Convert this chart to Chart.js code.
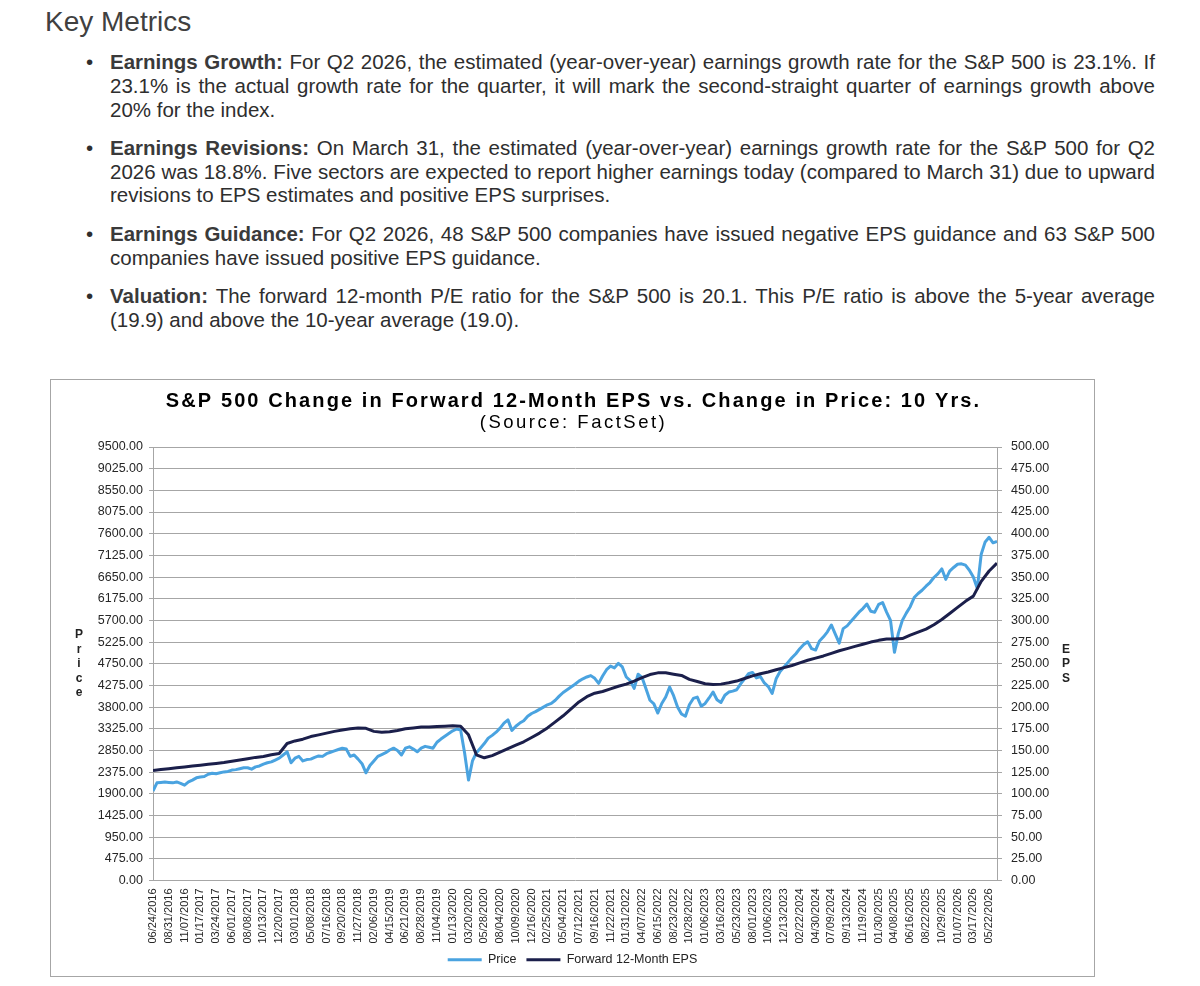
<!DOCTYPE html>
<html>
<head>
<meta charset="utf-8">
<title>Key Metrics</title>
<script src="https://cdn.jsdelivr.net/npm/chart.js@4.4.1/dist/chart.umd.min.js"></script>
<style>
  html, body { margin: 0; padding: 0; background: #fff; }
  body {
    width: 1200px; height: 986px; position: relative; overflow: hidden;
    font-family: "Liberation Sans", Arial, sans-serif; color: #2e2e2e;
  }
  h1 {
    position: absolute; left: 45px; top: 4px; margin: 0;
    font-size: 28px; line-height: 36px; font-weight: normal; color: #404040;
  }
  ul {
    position: absolute; left: 110px; top: 50px; width: 1045px;
    margin: 0; padding: 0; list-style: none;
  }
  li {
    position: relative; font-size: 20.5px; line-height: 23.8px;
    text-align: justify; margin-bottom: 14.5px;
  }
  li::before { content: "\2022"; position: absolute; left: -24px; top: 0; }
  li b { color: #3a3a3a; }
  .chart-box {
    position: absolute; left: 50px; top: 379px; width: 1043px; height: 596px;
    border: 1px solid #a6a6a6;
  }
</style>
</head>
<body>
<h1>Key Metrics</h1>
<ul>
  <li><b>Earnings Growth:</b> For Q2 2026, the estimated (year-over-year) earnings growth rate for the S&amp;P 500 is 23.1%. If 23.1% is the actual growth rate for the quarter, it will mark the second-straight quarter of earnings growth above 20% for the index.</li>
  <li><b>Earnings Revisions:</b> On March 31, the estimated (year-over-year) earnings growth rate for the S&amp;P 500 for Q2 2026 was 18.8%. Five sectors are expected to report higher earnings today (compared to March 31) due to upward revisions to EPS estimates and positive EPS surprises.</li>
  <li><b>Earnings Guidance:</b> For Q2 2026, 48 S&amp;P 500 companies have issued negative EPS guidance and 63 S&amp;P 500 companies have issued positive EPS guidance.</li>
  <li><b>Valuation:</b> The forward 12-month P/E ratio for the S&amp;P 500 is 20.1. This P/E ratio is above the 5-year average (19.9) and above the 10-year average (19.0).</li>
</ul>

<div class="chart-box"><canvas id="epsChart"></canvas></div>

<script>
// date labels on the x axis, one every ~10 weeks
const tickLabels = [
  '06/24/2016','08/31/2016','11/07/2016','01/17/2017','03/24/2017','06/01/2017',
  '08/08/2017','10/13/2017','12/20/2017','03/01/2018','05/08/2018','07/16/2018',
  '09/20/2018','11/27/2018','02/06/2019','04/15/2019','06/21/2019','08/28/2019',
  '11/04/2019','01/13/2020','03/20/2020','05/28/2020','08/04/2020','10/09/2020',
  '12/16/2020','02/25/2021','05/04/2021','07/12/2021','09/16/2021','11/22/2021',
  '01/31/2022','04/07/2022','06/15/2022','08/23/2022','10/28/2022','01/06/2023',
  '03/16/2023','05/23/2023','08/01/2023','10/06/2023','12/13/2023','02/22/2024',
  '04/30/2024','07/09/2024','09/13/2024','11/19/2024','01/30/2025','04/08/2025',
  '06/16/2025','08/22/2025','10/29/2025','01/07/2026','03/17/2026','05/22/2026'
];

// samples, per label interval
const PRICE_STEPS = 4;
const EPS_STEPS = 2;

// S&P 500 price (left axis)
const price = [
  1960, 2140, 2150, 2160, 2150, 2140, 2160, 2130, 2090, 2160, 2200, 2250, 2270, 2280, 2330, 2350, // 06/24/2016
  2340, 2360, 2380, 2390, 2420, 2430, 2450, 2470, 2470, 2440, 2490, 2510, 2550, 2580, 2600, 2640, // 03/24/2017
  2680, 2750, 2820, 2580, 2680, 2720, 2620, 2650, 2660, 2700, 2730, 2720, 2780, 2810, 2840, 2870, // 12/20/2017
  2900, 2880, 2720, 2750, 2660, 2560, 2360, 2520, 2620, 2720, 2760, 2800, 2860, 2900, 2850, 2750, // 09/20/2018
  2900, 2930, 2880, 2820, 2900, 2940, 2920, 2900, 3030, 3100, 3160, 3220, 3280, 3320, 3300, 2800, // 06/21/2019
  2200, 2620, 2800, 2900, 3000, 3120, 3180, 3250, 3340, 3450, 3520, 3290, 3380, 3450, 3500, 3600, // 03/20/2020
  3660, 3700, 3750, 3800, 3850, 3880, 3950, 4040, 4120, 4180, 4240, 4300, 4370, 4420, 4460, 4490, // 12/16/2020
  4430, 4320, 4480, 4620, 4700, 4660, 4760, 4680, 4460, 4380, 4210, 4520, 4450, 4200, 3950, 3870, // 09/16/2021
  3670, 3880, 4020, 4240, 4050, 3800, 3650, 3600, 3850, 3990, 4020, 3820, 3880, 4000, 4130, 3960, // 06/15/2022
  3900, 4060, 4130, 4150, 4180, 4310, 4420, 4530, 4560, 4440, 4470, 4330, 4250, 4100, 4420, 4580, // 03/16/2023
  4680, 4780, 4880, 4970, 5080, 5170, 5230, 5080, 5050, 5250, 5340, 5450, 5600, 5400, 5200, 5520, // 12/13/2023
  5580, 5680, 5780, 5880, 5960, 6060, 5900, 5880, 6050, 6090, 5880, 5700, 5000, 5420, 5700, 5860, // 09/13/2024
  6000, 6200, 6290, 6360, 6450, 6530, 6640, 6720, 6830, 6600, 6780, 6860, 6930, 6940, 6910, 6800, // 06/16/2025
  6650, 6400, 7150, 7420, 7520, 7400, 7430                                                        // 03/17/2026
];

// forward 12-month EPS (right axis)
const eps = [
  127, 128, 129, 130, 131, 132, 133, 134,                 // 06/24/2016
  135, 136, 137.5, 139, 140.5, 142, 143, 145,             // 03/24/2017
  146.5, 158, 161, 163, 166, 168, 170, 172,               // 12/20/2017
  173.5, 175, 176, 175.5, 172, 171, 171.5, 173,           // 09/20/2018
  175, 176, 177, 177, 177.5, 178, 178.5, 178,             // 06/21/2019
  168, 145, 141.5, 144, 148, 152, 156, 160,               // 03/20/2020
  165, 170, 176, 183, 190, 198, 206, 212,                 // 12/16/2020
  216, 218, 221, 224, 226.5, 230, 234, 237.5,             // 09/16/2021
  239.5, 239.5, 238, 236.5, 232, 229.5, 227, 226,         // 06/15/2022
  226.5, 228, 230, 233, 236, 238.5, 240.5, 243,           // 03/16/2023
  245.5, 248, 251, 254, 256.5, 259, 262, 265,             // 12/13/2023
  267.5, 270, 272.5, 275, 277, 278.5, 278.5, 279,         // 09/13/2024
  283, 286.5, 290, 295, 301, 308, 315, 322,               // 06/16/2025
  328, 345, 357, 366                                      // 03/17/2026
];

const TITLE = 'S&P 500 Change in Forward 12-Month EPS vs. Change in Price: 10 Yrs.';
const SUBTITLE = '(Source: FactSet)';
const FONT = '"Liberation Sans", Arial, sans-serif';
const TEXT = '#262626';
const GRID = '#a6a6a6';

Chart.defaults.font.family = FONT;

const toPoints = (values, steps) => values.map((v, i) => ({ x: i / steps, y: v }));

// title, source line and the stacked "Price" / "EPS" axis titles
const chartText = {
  id: 'chartText',
  afterDraw(chart) {
    const { ctx, chartArea } = chart;
    const mid = chart.width / 2;
    ctx.save();
    ctx.fillStyle = '#000';
    ctx.textAlign = 'center';
    ctx.textBaseline = 'middle';
    ctx.font = 'bold 20px ' + FONT;
    ctx.letterSpacing = '2.1px';
    ctx.fillText(TITLE, mid + 1, 21);
    ctx.font = '18.5px ' + FONT;
    ctx.letterSpacing = '2.5px';
    ctx.fillText(SUBTITLE, mid + 1, 43);

    ctx.letterSpacing = '0px';
    ctx.font = 'bold 12px ' + FONT;
    ctx.fillStyle = '#222';
    const midY = (chartArea.top + chartArea.bottom) / 2;
    const stack = (word, x) => {
      const letters = word.split('');
      letters.forEach((ch, k) => {
        ctx.fillText(ch, x, midY + (k - (letters.length - 1) / 2) * 14.5);
      });
    };
    stack('Price', chartArea.left - 74);
    stack('EPS', chartArea.right + 69);
    ctx.restore();
  }
};

new Chart(document.getElementById('epsChart'), {
  type: 'line',
  data: {
    datasets: [
      {
        label: 'Price',
        data: toPoints(price, PRICE_STEPS),
        borderColor: '#4aa3e0',
        backgroundColor: '#4aa3e0',
        borderWidth: 3,
        pointRadius: 0,
        borderJoinStyle: 'round',
        yAxisID: 'y',
        order: 1
      },
      {
        label: 'Forward 12-Month EPS',
        data: toPoints(eps, EPS_STEPS),
        borderColor: '#1b1f4b',
        backgroundColor: '#1b1f4b',
        borderWidth: 3,
        pointRadius: 0,
        borderJoinStyle: 'round',
        yAxisID: 'y1',
        order: 0
      }
    ]
  },
  options: {
    responsive: true,
    maintainAspectRatio: false,
    animation: false,
    layout: { padding: { top: 67, left: 0, right: 0, bottom: 0 } },
    plugins: {
      legend: {
        position: 'bottom',
        labels: {
          usePointStyle: true,
          pointStyle: 'line',
          pointStyleWidth: 34,
          padding: 10,
          color: '#222',
          font: { size: 12.5 },
          sort: (a, b) => a.datasetIndex - b.datasetIndex
        }
      },
      tooltip: { enabled: false }
    },
    scales: {
      x: {
        type: 'linear',
        min: 0,
        max: 53.5,
        afterFit: (s) => { s.height = 63; },
        grid: { display: false, drawTicks: false },
        border: { display: false },
        ticks: {
          stepSize: 1,
          autoSkip: false,
          includeBounds: false,
          minRotation: 90,
          maxRotation: 90,
          padding: 8,
          color: TEXT,
          font: { size: 11 },
          callback: (v) => tickLabels[v] ?? ''
        }
      },
      y: {
        position: 'left',
        min: 0,
        max: 9500,
        afterFit: (s) => { s.width = 102; },
        grid: { color: GRID, tickLength: 4 },
        border: { color: GRID },
        ticks: {
          stepSize: 475,
          padding: 6,
          color: TEXT,
          font: { size: 12.5 },
          callback: (v) => v.toFixed(2)
        }
      },
      y1: {
        position: 'right',
        min: 0,
        max: 500,
        afterFit: (s) => { s.width = 97; },
        grid: { drawOnChartArea: false, color: GRID, tickLength: 5 },
        border: { color: GRID },
        ticks: {
          stepSize: 25,
          padding: 9,
          color: TEXT,
          font: { size: 12.5 },
          callback: (v) => v.toFixed(2)
        }
      }
    }
  },
  plugins: [chartText]
});
</script>
</body>
</html>
